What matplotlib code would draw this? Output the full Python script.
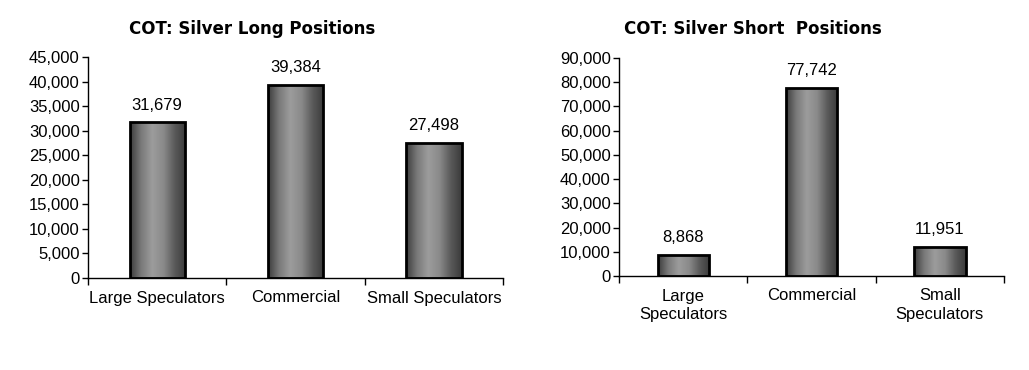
import matplotlib
matplotlib.use("Agg")
import matplotlib.pyplot as plt
import numpy as np
from matplotlib.colors import LinearSegmentedColormap
from matplotlib.ticker import FuncFormatter, MultipleLocator

categories_long = ["Large Speculators", "Commercial", "Small Speculators"]
values_long = [31679, 39384, 27498]
categories_short = ["Large\nSpeculators", "Commercial", "Small\nSpeculators"]
values_short = [8868, 77742, 11951]
title_long = "COT: Silver Long Positions"
title_short = "COT: Silver Short  Positions"

plt.rcParams['font.family'] = ['Liberation Sans', 'DejaVu Sans']

cmap = LinearSegmentedColormap.from_list(
    "bar", ["#3c3c3c", "#7a7a7a", "#9c9c9c", "#8a8a8a", "#5a5a5a", "#3a3a3a"])
grad = np.linspace(0, 1, 256).reshape(1, -1)

fig = plt.figure(figsize=(10.29, 3.70), dpi=100)
FS = 12

def draw(ax, cats, vals, ymax, step, title, title_x):
    ax.set_xlim(-0.5, len(cats) - 0.5)
    ax.set_ylim(0, ymax)
    x = np.arange(len(cats))
    bars = ax.bar(x, vals, width=0.40, color="none", edgecolor="black",
                  linewidth=2, zorder=3)
    for b in bars:
        x0, w, h = b.get_x(), b.get_width(), b.get_height()
        im = ax.imshow(grad, cmap=cmap, aspect="auto",
                       extent=(x0, x0 + w, 0, h), zorder=2)
        im.set_clip_path(b)
    ax.set_xlim(-0.5, len(cats) - 0.5)
    ax.set_ylim(0, ymax)
    for xi, v in zip(x, vals):
        ax.annotate(f"{v:,}", (xi, v), xytext=(0, 7), textcoords="offset points",
                    ha="center", va="bottom", fontsize=FS)
    for s in ["top", "right"]:
        ax.spines[s].set_visible(False)
    ax.spines["left"].set_linewidth(1)
    ax.spines["bottom"].set_linewidth(1)
    ax.yaxis.set_major_locator(MultipleLocator(step))
    ax.yaxis.set_major_formatter(FuncFormatter(lambda v, p: f"{int(v):,}"))
    ax.tick_params(axis="y", direction="out", length=4, width=1, labelsize=FS, pad=2)
    ax.set_xticks(np.arange(-0.5, len(cats), 1.0))
    ax.set_xticklabels([])
    ax.tick_params(axis="x", which="major", direction="out", length=5, width=1)
    ax.set_xticks(x, minor=True)
    ax.set_xticklabels(cats, minor=True, fontsize=FS, linespacing=1.3)
    ax.tick_params(axis="x", which="minor", length=0, pad=9)
    fig.text(title_x, 1 - 29.5 / 370, title, ha="center", va="center",
             fontsize=12, fontweight="bold", family="DejaVu Sans")

ax1 = fig.add_axes([88 / 1029, 1 - 278 / 370, 415 / 1029, 221 / 370])
draw(ax1, categories_long, values_long, 45000, 5000, title_long, 252 / 1029)
ax2 = fig.add_axes([619 / 1029, 1 - 276 / 370, 385 / 1029, 218 / 370])
draw(ax2, categories_short, values_short, 90000, 10000, title_short, 753 / 1029)

fig.savefig("out.png", dpi=100)
